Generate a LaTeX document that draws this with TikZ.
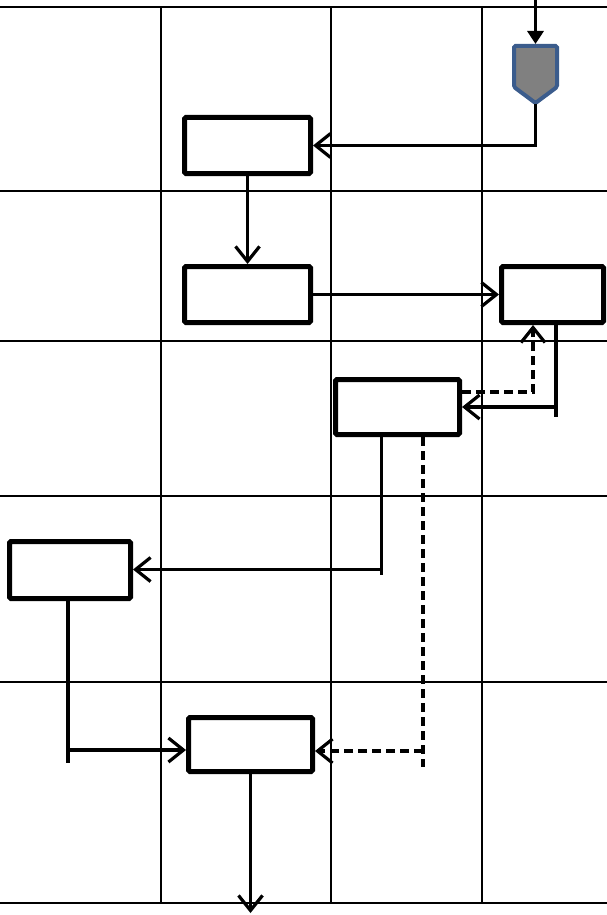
\documentclass[tikz,border=0pt]{standalone}
\usetikzlibrary{arrows.meta}
\definecolor{shieldfill}{RGB}{128,128,128}
\definecolor{shieldedge}{RGB}{59,92,140}
\tikzset{
  gridline/.style={line width=2pt, black},
  box/.style={draw, line width=5pt, rounded corners=1.5pt, rectangle, inner sep=0pt, fill=white},
  conn/.style={line width=3.2pt, line cap=butt},
  openarrow/.style={-{Straight Barb[length=15pt,width=24pt,line width=3.2pt]}},
  dashline/.style={dash pattern=on 9pt off 5pt}
}
\begin{document}
\begin{tikzpicture}[x=1pt,y=-1pt]
\useasboundingbox (0,0) rectangle (607,915);
% grid
\foreach \yy in {7,191,341,496,682,903} \draw[gridline] (0,\yy) -- (607,\yy);
\foreach \xx in {161,331,482} \draw[gridline] (\xx,7) -- (\xx,903);

% boxes
\node[box, minimum width=126pt, minimum height=56pt] (A) at (247.5,145.5) {};
\node[box, minimum width=126pt, minimum height=56pt] (B) at (247.5,294.5) {};
\node[box, minimum width=102pt, minimum height=56pt] (C) at (552.5,294.5) {};
\node[box, minimum width=124pt, minimum height=55pt] (D) at (397.5,407) {};
\node[box, minimum width=121pt, minimum height=57pt] (E) at (70,570) {};
\node[box, minimum width=124pt, minimum height=54pt] (F) at (250.5,744.5) {};

% shield
\draw[fill=shieldfill, draw=shieldedge, line width=4pt, rounded corners=1.5pt]
  (514,46) -- (557,46) -- (557,87) -- (535.5,103) -- (514,87) -- cycle;
\coordinate (shtop) at (535.5,44);
\coordinate (shbot) at (535.5,104);
\coordinate (entry) at (535.5,0);
\coordinate (exit) at (250.5,913);

% connectors
\draw[conn, -{Triangle[length=13pt,width=16pt]}] (entry) -- (shtop);
\draw[conn, openarrow] (shbot) |- (A.east);
\draw[conn, openarrow] (A.south) -- (B.north);
\draw[conn, openarrow] (B.east) -- (C.west);

\coordinate (c1) at (556,417);
\draw[conn] (C.south -| c1) -- (c1);
\draw[conn, openarrow] (c1 |- D.east) -- (D.east);

\coordinate (c2) at (533,392);
\draw[conn, dashline, openarrow] (D.east |- c2) -- (c2) -- (c2 |- C.south);

\coordinate (c3) at (381.5,575);
\coordinate (c3b) at (381.5,569.5);
\draw[conn] (D.south -| c3) -- (c3);
\draw[conn, openarrow] (c3b) -- (c3b -| E.east);

\coordinate (c4) at (423,767);
\coordinate (c5) at (423,751);
\draw[conn, dashline] (D.south -| c4) -- (c4);
\draw[conn, dashline, openarrow] (c5) -- (c5 -| F.east);

\coordinate (c6) at (68,763);
\coordinate (c7) at (68,750);
\draw[conn] (E.south -| c6) -- (c6);
\draw[conn, openarrow] (c7) -- (c7 -| F.west);

\draw[conn, openarrow] (F.south) -- (exit);
\end{tikzpicture}
\end{document}
